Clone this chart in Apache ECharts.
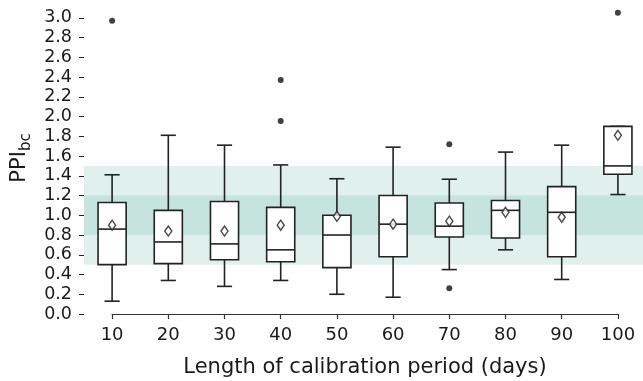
<!DOCTYPE html>
<html>
<head>
<meta charset="utf-8">
<script src="https://cdn.jsdelivr.net/npm/echarts@6/dist/echarts.min.js"></script>
<style>html,body{margin:0;padding:0;background:#fff}#c{width:643px;height:381px}</style>
</head>
<body>
<div id="c"></div>
<script>
// ---- data ----
var categories = ['10','20','30','40','50','60','70','80','90','100'];
var lowWhisker  = [0.13, 0.34, 0.28, 0.34, 0.20, 0.17, 0.45, 0.65, 0.35, 1.21];
var q1          = [0.50, 0.51, 0.55, 0.53, 0.47, 0.58, 0.78, 0.77, 0.58, 1.415];
var medians     = [0.86, 0.73, 0.71, 0.65, 0.80, 0.91, 0.89, 1.05, 1.03, 1.50];
var q3          = [1.13, 1.05, 1.14, 1.08, 1.00, 1.20, 1.125, 1.15, 1.29, 1.90];
var highWhisker = [1.41, 1.81, 1.71, 1.51, 1.37, 1.69, 1.365, 1.64, 1.71, 1.90];
var means       = [0.90, 0.84, 0.84, 0.90, 0.99, 0.91, 0.94, 1.03, 0.98, 1.81];
var outlierCat  = [0, 3, 3, 6, 6, 9];
var outlierVal  = [2.97, 2.37, 1.955, 1.72, 0.26, 3.05];
var outerBand   = [0.5, 1.5];
var innerBand   = [0.8, 1.2];
var yTicks      = [0,0.2,0.4,0.6,0.8,1.0,1.2,1.4,1.6,1.8,2.0,2.2,2.4,2.6,2.8,3.0];
var xTicks      = [0,1,2,3,4,5,6,7,8,9];

var boxData = categories.map(function (c, i) {
  return [i, lowWhisker[i], q1[i], medians[i], q3[i], highWhisker[i]];
});
var meanData = means.map(function (m, i) { return [i, m]; });
var outlierData = outlierCat.map(function (c, i) { return [c, outlierVal[i]]; });

var LINE = '#222222';
var TEXT = '#1a1a1a';
var FONT = 'DejaVu Sans';

// main plot area: x from -0.5 to 9.5 over 562 px (56.2 px per category)
var PLOT_LEFT = 84, PLOT_W = 562, STEP = PLOT_W / 10;

var chart = echarts.init(document.getElementById('c'), null, {renderer: 'canvas'});
chart.setOption({
  animation: false,
  backgroundColor: '#ffffff',
  grid: [
    {left: PLOT_LEFT, width: PLOT_W, top: 0, height: 316, containLabel: false, outerBoundsMode: 'none'},
    // trimmed spine grid: spans from the first to the last category centre
    {left: PLOT_LEFT + STEP / 2, width: STEP * 9, top: 0, height: 314, containLabel: false, outerBoundsMode: 'none'}
  ],
  xAxis: [
    {
      gridIndex: 0,
      type: 'value', min: -0.5, max: 9.5,
      splitLine: {show: false},
      axisLine: {show: false, onZero: true},
      axisTick: {show: false},
      axisLabel: {show: true, customValues: xTicks, margin: 10, color: TEXT, fontFamily: FONT, fontSize: 18,
        formatter: function (v) { return categories[Math.round(v)]; }},
      name: 'Length of calibration period (days)',
      nameLocation: 'middle', nameGap: 41,
      nameTextStyle: {fontFamily: FONT, fontSize: 21, color: TEXT}
    },
    {
      gridIndex: 1,
      type: 'value', min: 0, max: 9, interval: 1,
      splitLine: {show: false},
      axisLine: {show: true, onZero: false, lineStyle: {color: '#333333', width: 1.2}},
      axisTick: {show: true, length: 5, lineStyle: {color: '#333333', width: 1.2}},
      axisLabel: {show: false}
    }
  ],
  yAxis: [
    {
      gridIndex: 0,
      type: 'value', min: -0.02, max: 3.18,
      splitLine: {show: false},
      axisLine: {show: false, onZero: false},
      axisTick: {show: true, customValues: yTicks, length: 5, lineStyle: {color: LINE, width: 1}},
      axisLabel: {show: true, customValues: yTicks, margin: 12, color: TEXT, fontFamily: FONT, fontSize: 17.5,
        formatter: function (v) { return v.toFixed(1); }},
      name: '{a|PPI}{b|bc}',
      nameLocation: 'middle', nameGap: 52, nameRotate: 90,
      nameTextStyle: {
        rich: {
          a: {fontFamily: FONT, fontSize: 21, color: TEXT, lineHeight: 26, verticalAlign: 'bottom'},
          b: {fontFamily: FONT, fontSize: 15, color: TEXT, lineHeight: 26, verticalAlign: 'bottom', padding: [0,0,-3,0]}
        }
      }
    },
    {
      gridIndex: 1,
      type: 'value', min: 0, max: 1, show: false
    }
  ],
  series: [
    {
      type: 'custom',
      z: 3,
      xAxisIndex: 0, yAxisIndex: 0,
      data: boxData,
      renderItem: function (params, api) {
        var x = api.value(0);
        var w = api.size([1, 0])[0];
        var hb = w * 0.25, hc = w * 0.135;
        var pLow = api.coord([x, api.value(1)]);
        var pQ1 = api.coord([x, api.value(2)]);
        var pMed = api.coord([x, api.value(3)]);
        var pQ3 = api.coord([x, api.value(4)]);
        var pHigh = api.coord([x, api.value(5)]);
        var cx = pLow[0];
        var st = {stroke: LINE, lineWidth: 1.6, fill: null};
        return {
          type: 'group',
          children: [
            {type: 'line', shape: {x1: cx, y1: pLow[1], x2: cx, y2: pQ1[1]}, style: st},
            {type: 'line', shape: {x1: cx, y1: pQ3[1], x2: cx, y2: pHigh[1]}, style: st},
            {type: 'line', shape: {x1: cx - hc, y1: pLow[1], x2: cx + hc, y2: pLow[1]}, style: st},
            {type: 'line', shape: {x1: cx - hc, y1: pHigh[1], x2: cx + hc, y2: pHigh[1]}, style: st},
            {type: 'rect', shape: {x: cx - hb, y: pQ3[1], width: 2 * hb, height: pQ1[1] - pQ3[1]},
              style: {stroke: LINE, lineWidth: 1.6, fill: '#ffffff'}},
            {type: 'line', shape: {x1: cx - hb, y1: pMed[1], x2: cx + hb, y2: pMed[1]}, style: st}
          ]
        };
      },
      markArea: {
        silent: true,
        data: [
          [{yAxis: outerBand[0], itemStyle: {color: 'rgb(224,241,237)'}}, {yAxis: outerBand[1]}],
          [{yAxis: innerBand[0], itemStyle: {color: 'rgb(196,228,221)'}}, {yAxis: innerBand[1]}]
        ]
      }
    },
    {
      type: 'scatter',
      z: 5,
      xAxisIndex: 0, yAxisIndex: 0,
      data: meanData,
      symbol: 'diamond',
      symbolSize: [7, 10],
      itemStyle: {color: '#ffffff', borderColor: LINE, borderWidth: 1.5}
    },
    {
      type: 'scatter',
      z: 5,
      xAxisIndex: 0, yAxisIndex: 0,
      data: outlierData,
      symbol: 'circle',
      symbolSize: 6,
      itemStyle: {color: '#111111'}
    },
    {
      type: 'scatter',
      xAxisIndex: 1, yAxisIndex: 1,
      data: [],
      silent: true
    }
  ]
});
</script>
</body>
</html>
